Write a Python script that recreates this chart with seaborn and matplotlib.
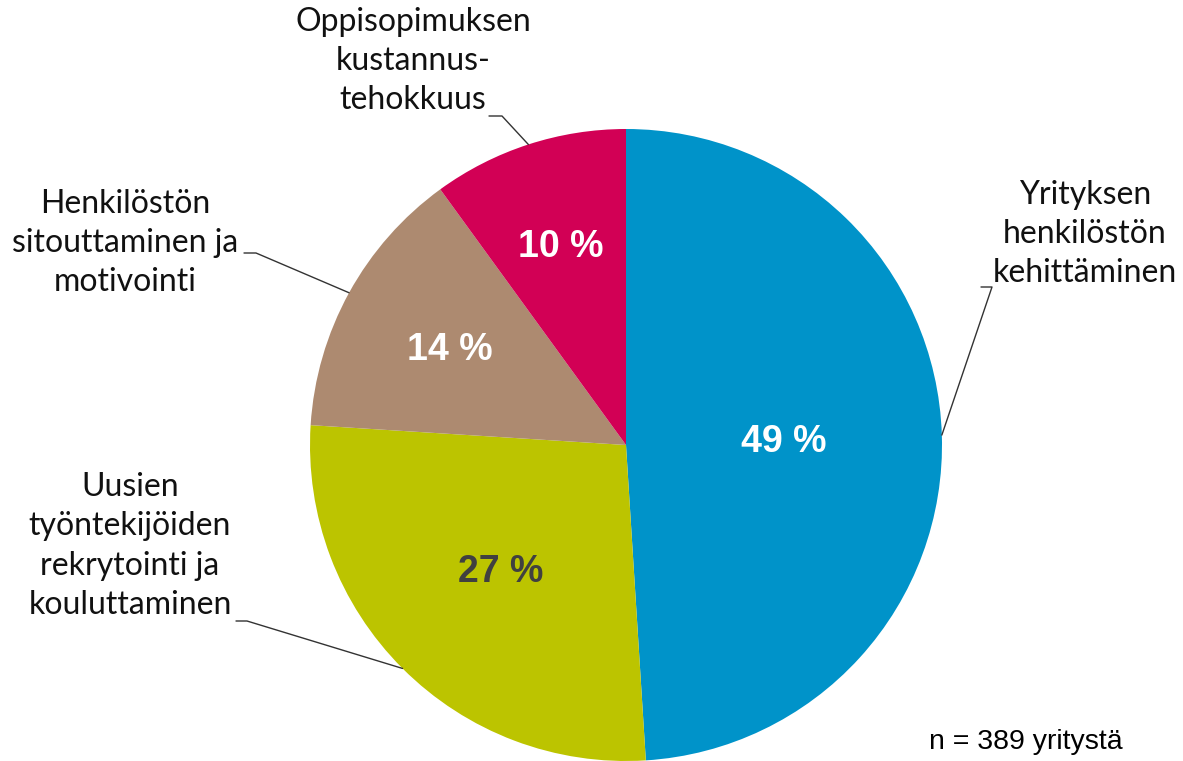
import numpy as np
import seaborn as sns
import matplotlib.pyplot as plt

# Data
categories = ['Yrityksen\nhenkilöstön\nkehittäminen',
              'Uusien\ntyöntekijöiden\nrekrytointi ja\nkouluttaminen',
              'Henkilöstön\nsitouttaminen ja\nmotivointi',
              'Oppisopimuksen\nkustannus-\ntehokkuus']
shares = [49, 27, 14, 10]
colors = ['#0093C9', '#BCC400', '#AD8A70', '#D20055']
pct_colors = ['white', '#404040', 'white', 'white']
note = 'n = 389 yritystä'

sns.set_style('white')

fig = plt.figure(figsize=(11.83, 7.61), dpi=100)
ax = fig.add_axes([0, 0, 1, 1])

cx, cy, r = 626, 316, 316
wedges, _ = ax.pie(shares, colors=sns.color_palette(colors), startangle=90,
                   counterclock=False, center=(cx, cy), radius=r,
                   wedgeprops=dict(linewidth=0))
ax.set_xlim(0, 1183)
ax.set_ylim(0, 761)
ax.set_aspect('equal')
ax.axis('off')

# percentage labels (position as fraction of radius)
pct_pos = [0.50, 0.56, 0.635, 0.665]
for w, s, c, p in zip(wedges, shares, pct_colors, pct_pos):
    mid = np.deg2rad((w.theta1 + w.theta2) / 2)
    ax.text(cx + p * r * np.cos(mid), cy + p * r * np.sin(mid) - 2, f'{s} %',
            ha='center', va='center', color=c, fontsize=27,
            fontweight='bold', family='Liberation Sans')

# outer labels: text centre and elbow of leader line (pixel layout)
label_xy = [(1085, 527), (130, 215), (125, 518), (413, 700)]
elbows = [(992, 474, 981), (247, 140, 236), (256, 508, 244), (502, 645, 489)]
for w, lab, (tx, ty), (ex, ey, sx) in zip(wedges, categories, label_xy, elbows):
    mid = np.deg2rad((w.theta1 + w.theta2) / 2)
    px, py = cx + r * np.cos(mid), cy + r * np.sin(mid)
    ax.plot([sx, ex, px], [ey, ey, py], color='#333333', lw=1)
    ax.text(tx, ty, lab, ha='center', va='center', fontsize=23,
            family='Lato', color='#111111', linespacing=1.38)

ax.text(1026, 19, note, ha='center', va='center', fontsize=20.5,
        family='Liberation Sans', color='black')

fig.savefig('out.png', dpi=100)
